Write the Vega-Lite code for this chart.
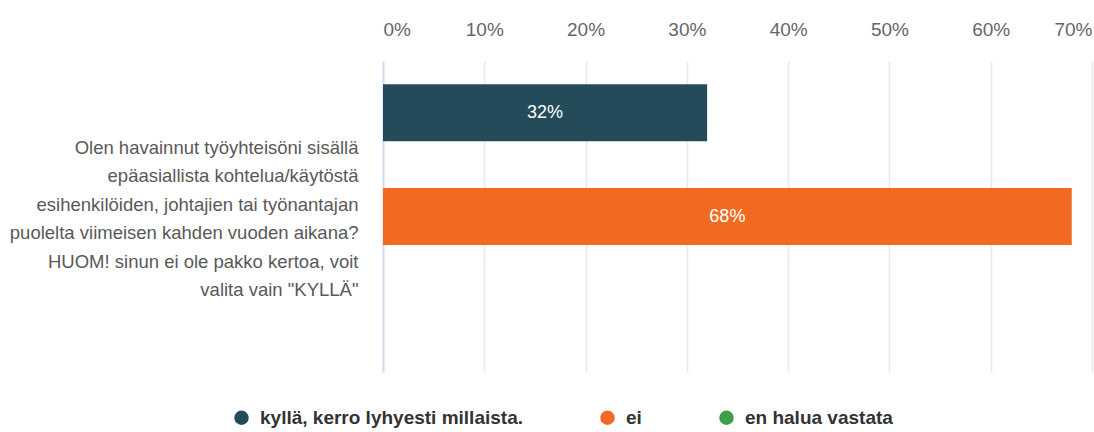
{
  "$schema": "https://vega.github.io/schema/vega-lite/v6.json",
  "autosize": {"type": "none"},
  "width": 709,
  "height": 311,
  "padding": {"left": 383, "top": 61, "right": 2, "bottom": 60},
  "background": "white",
  "config": {
    "font": "Liberation Sans, Arial",
    "view": {"stroke": null}
  },
  "data": {
    "values": [
      {"q": "Olen havainnut työyhteisöni sisällä epäasiallista kohtelua/käytöstä esihenkilöiden, johtajien tai työnantajan puolelta viimeisen kahden vuoden aikana? HUOM! sinun ei ole pakko kertoa, voit valita vain \"KYLLÄ\"", "series": "kyllä, kerro lyhyesti millaista.", "value": 0.32, "label": "32%"},
      {"q": "Olen havainnut työyhteisöni sisällä epäasiallista kohtelua/käytöstä esihenkilöiden, johtajien tai työnantajan puolelta viimeisen kahden vuoden aikana? HUOM! sinun ei ole pakko kertoa, voit valita vain \"KYLLÄ\"", "series": "ei", "value": 0.68, "label": "68%"},
      {"q": "Olen havainnut työyhteisöni sisällä epäasiallista kohtelua/käytöstä esihenkilöiden, johtajien tai työnantajan puolelta viimeisen kahden vuoden aikana? HUOM! sinun ei ole pakko kertoa, voit valita vain \"KYLLÄ\"", "series": "en halua vastata", "value": 0, "label": ""}
    ]
  },
  "encoding": {
    "y": {
      "field": "q",
      "type": "nominal",
      "title": null,
      "scale": {"paddingInner": 0, "paddingOuter": 0},
      "axis": {
        "labelExpr": "['Olen havainnut työyhteisöni sisällä', 'epäasiallista kohtelua/käytöstä', 'esihenkilöiden, johtajien tai työnantajan', 'puolelta viimeisen kahden vuoden aikana?', 'HUOM! sinun ei ole pakko kertoa, voit', 'valita vain \"KYLLÄ\"']",
        "labelFontSize": 18.5,
        "labelLineHeight": 28.5,
        "labelColor": "#595959",
        "labelPadding": 25,
        "labelOffset": -69,
        "labelLimit": 400,
        "ticks": false,
        "domain": true,
        "domainColor": "#d6dcf0",
        "domainWidth": 2,
        "grid": false
      }
    },
    "yOffset": {
      "field": "series",
      "type": "nominal",
      "sort": ["kyllä, kerro lyhyesti millaista.", "ei", "en halua vastata"],
      "scale": {"paddingInner": 0.45, "paddingOuter": 0.225}
    }
  },
  "layer": [
    {
      "mark": {"type": "bar"},
      "encoding": {
        "x": {
          "field": "value",
          "type": "quantitative",
          "scale": {"domain": [0, 0.7], "nice": false},
          "title": null,
          "axis": {
            "orient": "top",
            "format": ".0%",
            "values": [0, 0.1, 0.2, 0.3, 0.4, 0.5, 0.6, 0.7],
            "labelFontSize": 19,
            "labelColor": "#666666",
            "labelPadding": 22,
            "ticks": false,
            "domain": false,
            "grid": true,
            "gridColor": "#e8e8ec",
            "gridWidth": 1.5
          }
        },
        "color": {
          "field": "series",
          "type": "nominal",
          "sort": ["kyllä, kerro lyhyesti millaista.", "ei", "en halua vastata"],
          "scale": {
            "domain": ["kyllä, kerro lyhyesti millaista.", "ei", "en halua vastata"],
            "range": ["#234b59", "#f26a22", "#3c9f4b"]
          },
          "legend": {
            "title": null,
            "orient": "none",
            "direction": "horizontal",
            "legendX": -151,
            "legendY": 347,
            "symbolType": "circle",
            "symbolSize": 210,
            "symbolStrokeWidth": 0,
            "labelFontSize": 19,
            "labelFontWeight": "bold",
            "labelColor": "#333333",
            "labelOffset": 9,
            "columnPadding": 75,
            "labelLimit": 400
          }
        }
      }
    },
    {
      "transform": [
        {"filter": "datum.value > 0"},
        {"calculate": "datum.value / 2", "as": "mid"}
      ],
      "mark": {"type": "text", "color": "white", "fontSize": 18, "align": "center", "baseline": "middle"},
      "encoding": {
        "x": {"field": "mid", "type": "quantitative"},
        "text": {"field": "label"}
      }
    }
  ]
}
